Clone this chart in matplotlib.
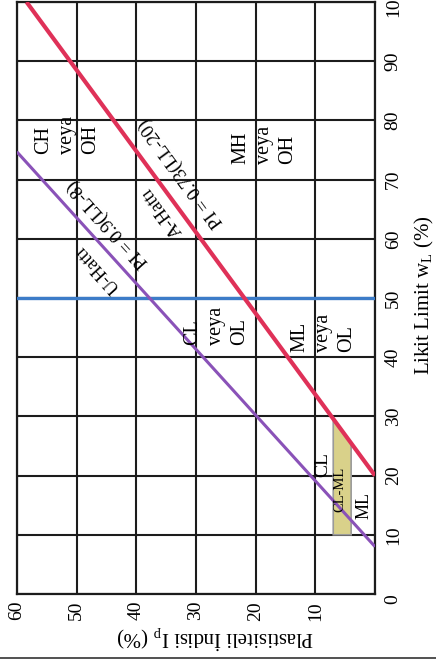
import math
import matplotlib
matplotlib.use("Agg")
import matplotlib.pyplot as plt
from matplotlib.lines import Line2D

plt.rcParams['font.family'] = 'Liberation Serif'
plt.rcParams['mathtext.fontset'] = 'custom'
plt.rcParams['mathtext.rm'] = 'Liberation Serif'
plt.rcParams['mathtext.it'] = 'Liberation Serif:italic'

# chart values
PI_TICKS = [0, 10, 20, 30, 40, 50, 60]
LL_TICKS = [0, 10, 20, 30, 40, 50, 60, 70, 80, 90, 100]

A_SLOPE, A_OFFSET = 0.73, 20      # PI = 0.73(LL-20)
U_SLOPE, U_OFFSET = 0.9, 8        # PI = 0.9(LL-8)
A_LL = [20, 100]
U_LL = [8, 74.7]
B_LINE_LL = 50
CLML_PI = [4, 7]
CLML_LL_MIN = 10

ZONE_TEXT = ["CH\nveya\nOH", "MH\nveya\nOH", "CL\nveya\nOL", "ML\nveya\nOL"]
ZONE_PI = [51.6, 18.5, 26.6, 8.7]
ZONE_LL = [74.4, 72.7, 42.0, 40.8]

SMALL_TEXT = ["CL", "CL-ML", "ML"]
SMALL_PI = [8.7, 5.9, 1.8]
SMALL_LL = [19.7, 17.6, 14.9]
SMALL_SIZE = [14, 10.5, 13]

RED = '#df3158'
PURPLE = '#8a52b8'
BLUE = '#3c7cc8'
GRID = '#1c1c1c'

W, H = 436, 661
fig = plt.figure(figsize=(W / 100, H / 100), dpi=100)
ax = fig.add_axes([17 / W, 1 - 594 / H, (375 - 17) / W, (594 - 2) / H])

# plasticity index runs right-to-left, liquid limit bottom-to-top
ax.set_xlim(60, 0)
ax.set_ylim(0, 100)

ax.set_xticks(PI_TICKS)
ax.set_xticklabels(['' if v == 0 else str(v) for v in PI_TICKS], rotation=90)
ax.yaxis.tick_right()
ax.set_yticks(LL_TICKS)
ax.set_yticklabels([str(v) for v in LL_TICKS], rotation=90, va='center')
ax.get_yticklabels()[0].set_va('top')
ax.tick_params(length=0, labelsize=14)
ax.tick_params(axis='x', pad=5)
ax.tick_params(axis='y', pad=7)
ax.grid(True, color=GRID, lw=1.5, zorder=1)
ax.set_axisbelow(True)
for sp in ax.spines.values():
    sp.set_color(GRID)
    sp.set_linewidth(1.6)

# CL-ML band between PI 4 and 7, capped by the A-line
p_lo, p_hi = CLML_PI
band_x = [p_lo, p_hi, p_hi, p_lo]
band_y = [CLML_LL_MIN, CLML_LL_MIN,
          A_OFFSET + p_hi / A_SLOPE, A_OFFSET + p_lo / A_SLOPE]
ax.fill(band_x, band_y, facecolor='#d9d18a', edgecolor='#9a9a9a', lw=1.2, zorder=2)

ax.axhline(B_LINE_LL, color=BLUE, lw=2.4, zorder=3)

a_pi = [A_SLOPE * (ll - A_OFFSET) for ll in A_LL]
u_pi = [U_SLOPE * (ll - U_OFFSET) for ll in U_LL]
ax.plot(a_pi, A_LL, color=RED, lw=3.0, solid_capstyle='butt', zorder=4)
ax.plot(u_pi, U_LL, color=PURPLE, lw=2.2, solid_capstyle='butt', zorder=4)


def screen_angle(xs, ys):
    (x0, y0), (x1, y1) = ax.transData.transform([(xs[0], ys[0]), (xs[1], ys[1])])
    return math.degrees(math.atan2(y1 - y0, x1 - x0))


a_ang = screen_angle(a_pi, A_LL)
u_ang = screen_angle(u_pi, U_LL)
line_labels = [
    ("A-Hattı", 35.7, 64.6, a_ang),
    ("PI = 0.73(LL-20)", 32.4, 71.2, a_ang),
    ("U-Hattı", 46.5, 54.9, u_ang),
    ("PI = 0.9(LL-8)", 44.7, 62.5, u_ang),
]
for txt, x, y, ang in line_labels:
    ax.text(x, y, txt, rotation=ang, rotation_mode='anchor', ha='center',
            va='center', fontsize=13.5, zorder=5)

for txt, x, y in zip(ZONE_TEXT, ZONE_PI, ZONE_LL):
    ax.text(x, y, txt, rotation=90, ha='center', va='bottom',
            multialignment='left', fontsize=14.5, linespacing=1.3, zorder=5)

for txt, x, y, fs in zip(SMALL_TEXT, SMALL_PI, SMALL_LL, SMALL_SIZE):
    va = 'bottom' if txt == 'CL' else 'center'
    ax.text(x, y, txt, rotation=90, ha='center', va=va, fontsize=fs, zorder=5)

fig.text(424 / W, 1 - 295 / H, 'Likit Limit w$_\\mathrm{L}$ (%)', rotation=90,
         ha='center', va='center', fontsize=15)
fig.text(215 / W, 1 - 638 / H, 'Plastisiteli İndisi I$_\\mathrm{p}$ (%)', rotation=180,
         ha='center', va='center', fontsize=15)

fig.add_artist(Line2D([0, 1], [1 - 658 / H] * 2, transform=fig.transFigure,
                      color='#333333', lw=1.2))

fig.savefig('out.png', dpi=100)
